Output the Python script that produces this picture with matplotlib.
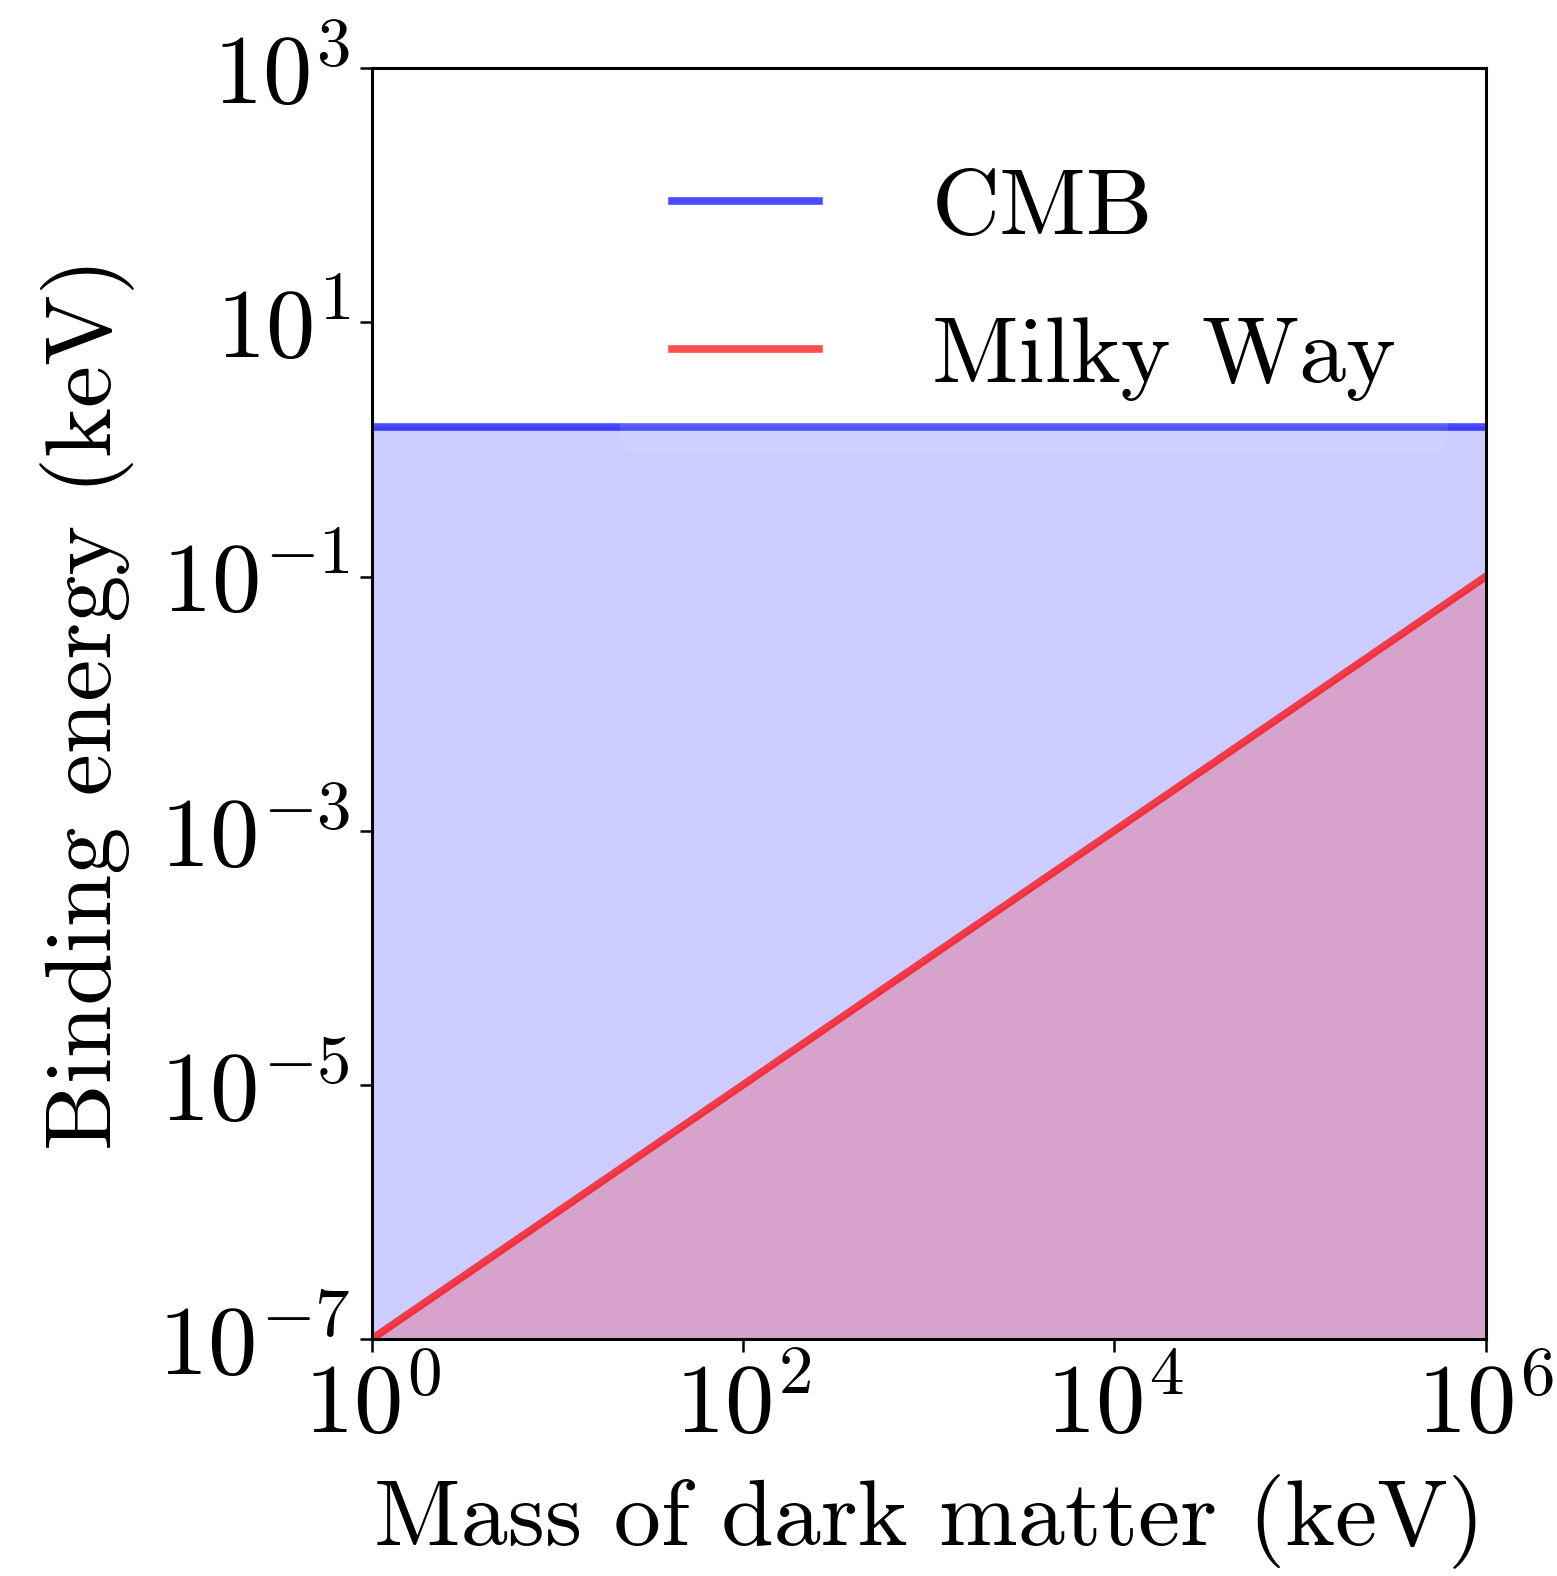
import numpy as np
import matplotlib
matplotlib.use('Agg')
import matplotlib.pyplot as plt

plt.rcParams['font.family'] = 'serif'
plt.rcParams['font.serif'] = ['cmr10']
plt.rcParams['mathtext.fontset'] = 'cm'
plt.rcParams['axes.unicode_minus'] = False
plt.rcParams['axes.formatter.use_mathtext'] = True

# mass range in keV and the two binding energy curves
mass = np.array([1.0, 1e6])
cmb = np.array([1.5, 1.5])
milky_way = np.array([1e-7, 1e-1])

fs = 68

fig = plt.figure(figsize=(15.57, 15.76), dpi=100)
ax = fig.add_axes([0.2389, 0.1505, 0.7153, 0.8061])

ax.fill_between(mass, 1e-7, cmb, color='blue', alpha=0.2, lw=0)
ax.fill_between(mass, 1e-7, milky_way, color='red', alpha=0.2, lw=0)
ax.plot(mass, cmb, color='blue', alpha=0.7, lw=5.5, label='CMB')
ax.plot(mass, milky_way, color='red', alpha=0.7, lw=5.5, label='Milky Way')

ax.set_xscale('log')
ax.set_yscale('log')
ax.set_xlim(1, 1e6)
ax.set_ylim(1e-7, 1e3)
ax.set_xticks([1e0, 1e2, 1e4, 1e6])
ax.set_yticks([1e-7, 1e-5, 1e-3, 1e-1, 1e1, 1e3])
ax.minorticks_off()
ax.tick_params(labelsize=71, length=9, width=1.8, pad=7)
for s in ax.spines.values():
    s.set_linewidth(2.2)

ax.set_xlabel('Mass of dark matter (keV)', fontsize=fs, labelpad=16)
ax.set_ylabel('Binding energy (keV)', fontsize=fs, labelpad=16)

leg = ax.legend(loc='upper right', bbox_to_anchor=(1.0, 0.992), fontsize=fs,
                handlelength=1.56, handletextpad=1.2, borderpad=0.55,
                labelspacing=0.67, borderaxespad=0.4, framealpha=0.1)
leg.get_frame().set_edgecolor('none')

fig.savefig('out.png', dpi=100)
